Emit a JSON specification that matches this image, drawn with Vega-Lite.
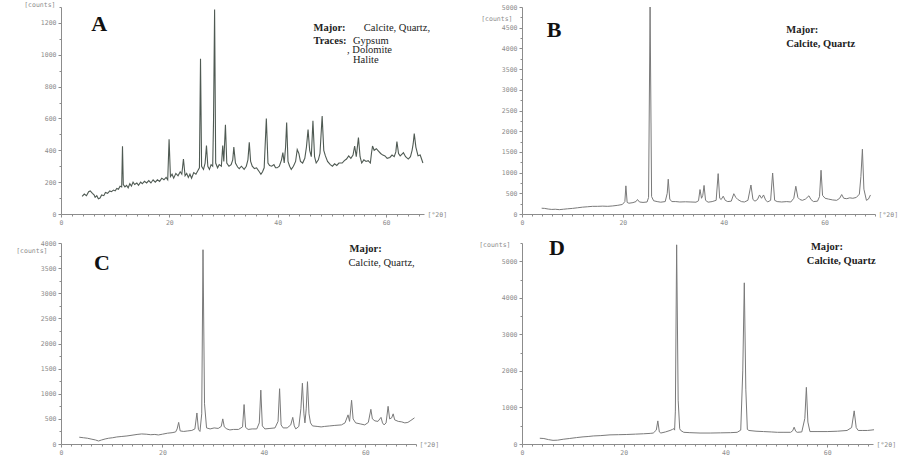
{
  "$schema": "https://vega.github.io/schema/vega-lite/v6.json",
  "background": "white",
  "padding": {"left": 15, "top": 1, "right": 0, "bottom": 0},
  "config": {
    "view": {"stroke": null},
    "axis": {
      "grid": false,
      "domainColor": "#8c8c8c",
      "tickColor": "#8c8c8c",
      "labelColor": "#8c8c8c",
      "labelFont": "DejaVu Sans Mono",
      "labelFontSize": 6.5,
      "tickSize": 3,
      "labelPadding": 2,
      "labelFlush": false,
      "titleFont": "DejaVu Sans Mono",
      "titleFontSize": 6.5,
      "titleFontWeight": "normal",
      "titleColor": "#8c8c8c",
      "titleAngle": 0,
      "titlePadding": 0
    }
  },
  "datasets": {
    "A": [
      {"t":3.9,"c":110},{"t":4.3,"c":125},{"t":4.7,"c":115},{"t":5.1,"c":140},{"t":5.4,"c":145},{"t":5.8,"c":130},{"t":6.1,"c":120},{"t":6.3,"c":105},{"t":6.6,"c":115},{"t":6.9,"c":95},{"t":7.2,"c":100},{"t":7.5,"c":120},{"t":7.9,"c":115},{"t":8.2,"c":135},{"t":8.6,"c":130},{"t":9.0,"c":145},{"t":9.3,"c":140},{"t":9.7,"c":150},{"t":10.0,"c":145},{"t":10.3,"c":160},{"t":10.6,"c":155},{"t":10.9,"c":175},{"t":11.2,"c":170},{"t":11.35,"c":425},{"t":11.5,"c":185},{"t":11.8,"c":170},{"t":12.1,"c":180},{"t":12.4,"c":165},{"t":12.7,"c":190},{"t":13.0,"c":175},{"t":13.3,"c":200},{"t":13.6,"c":185},{"t":14.0,"c":195},{"t":14.3,"c":180},{"t":14.7,"c":200},{"t":15.0,"c":190},{"t":15.4,"c":205},{"t":15.8,"c":195},{"t":16.2,"c":210},{"t":16.6,"c":195},{"t":17.0,"c":215},{"t":17.4,"c":200},{"t":17.8,"c":215},{"t":18.2,"c":205},{"t":18.6,"c":225},{"t":19.0,"c":215},{"t":19.4,"c":230},{"t":19.7,"c":215},{"t":19.95,"c":470},{"t":20.2,"c":235},{"t":20.5,"c":250},{"t":20.8,"c":225},{"t":21.2,"c":255},{"t":21.6,"c":240},{"t":22.0,"c":265},{"t":22.3,"c":250},{"t":22.6,"c":345},{"t":22.9,"c":240},{"t":23.2,"c":255},{"t":23.5,"c":230},{"t":23.8,"c":250},{"t":24.1,"c":225},{"t":24.5,"c":260},{"t":24.9,"c":250},{"t":25.3,"c":275},{"t":25.55,"c":290},{"t":25.75,"c":975},{"t":25.95,"c":300},{"t":26.3,"c":280},{"t":26.6,"c":320},{"t":26.85,"c":430},{"t":27.1,"c":300},{"t":27.4,"c":280},{"t":27.7,"c":310},{"t":28.0,"c":300},{"t":28.15,"c":580},{"t":28.35,"c":1285},{"t":28.55,"c":320},{"t":28.9,"c":290},{"t":29.2,"c":310},{"t":29.6,"c":300},{"t":29.85,"c":430},{"t":30.05,"c":330},{"t":30.35,"c":560},{"t":30.6,"c":320},{"t":31.0,"c":300},{"t":31.4,"c":310},{"t":31.7,"c":340},{"t":31.9,"c":420},{"t":32.2,"c":320},{"t":32.6,"c":295},{"t":32.9,"c":285},{"t":33.3,"c":300},{"t":33.8,"c":280},{"t":34.2,"c":300},{"t":34.5,"c":340},{"t":34.75,"c":450},{"t":35.0,"c":330},{"t":35.3,"c":300},{"t":35.7,"c":285},{"t":36.1,"c":290},{"t":36.5,"c":270},{"t":36.9,"c":250},{"t":37.2,"c":265},{"t":37.5,"c":290},{"t":37.9,"c":600},{"t":38.2,"c":320},{"t":38.5,"c":305},{"t":38.9,"c":300},{"t":39.3,"c":310},{"t":39.6,"c":290},{"t":39.9,"c":290},{"t":40.3,"c":300},{"t":40.7,"c":340},{"t":40.95,"c":385},{"t":41.2,"c":320},{"t":41.45,"c":420},{"t":41.65,"c":575},{"t":41.9,"c":330},{"t":42.2,"c":300},{"t":42.5,"c":280},{"t":42.9,"c":300},{"t":43.3,"c":330},{"t":43.6,"c":405},{"t":43.9,"c":380},{"t":44.2,"c":330},{"t":44.6,"c":320},{"t":45.0,"c":350},{"t":45.3,"c":420},{"t":45.6,"c":530},{"t":45.9,"c":400},{"t":46.2,"c":360},{"t":46.5,"c":585},{"t":46.8,"c":360},{"t":47.1,"c":320},{"t":47.5,"c":340},{"t":47.8,"c":380},{"t":48.2,"c":615},{"t":48.5,"c":400},{"t":48.8,"c":365},{"t":49.2,"c":330},{"t":49.7,"c":310},{"t":50.1,"c":300},{"t":50.5,"c":315},{"t":50.9,"c":305},{"t":51.3,"c":320},{"t":51.9,"c":320},{"t":52.3,"c":335},{"t":52.7,"c":345},{"t":53.1,"c":365},{"t":53.5,"c":350},{"t":53.9,"c":370},{"t":54.2,"c":427},{"t":54.5,"c":360},{"t":54.9,"c":480},{"t":55.2,"c":360},{"t":55.5,"c":320},{"t":55.9,"c":340},{"t":56.3,"c":330},{"t":56.7,"c":335},{"t":57.1,"c":320},{"t":57.3,"c":380},{"t":57.5,"c":427},{"t":57.8,"c":400},{"t":58.2,"c":410},{"t":58.6,"c":395},{"t":59.0,"c":380},{"t":59.4,"c":370},{"t":59.8,"c":365},{"t":60.2,"c":350},{"t":60.7,"c":355},{"t":61.1,"c":370},{"t":61.5,"c":360},{"t":61.8,"c":390},{"t":62.0,"c":455},{"t":62.3,"c":380},{"t":62.6,"c":365},{"t":62.9,"c":375},{"t":63.2,"c":385},{"t":63.6,"c":360},{"t":64.1,"c":345},{"t":64.5,"c":360},{"t":64.8,"c":400},{"t":65.0,"c":440},{"t":65.2,"c":505},{"t":65.5,"c":420},{"t":65.9,"c":365},{"t":66.3,"c":370},{"t":66.8,"c":320}
    ],
    "B": [
      {"t":3.9,"c":140},{"t":4.5,"c":135},{"t":5.2,"c":120},{"t":5.9,"c":110},{"t":6.6,"c":115},{"t":7.4,"c":105},{"t":8.2,"c":115},{"t":9.0,"c":125},{"t":10.0,"c":135},{"t":11.0,"c":150},{"t":12.0,"c":165},{"t":13.0,"c":175},{"t":14.0,"c":185},{"t":15.0,"c":185},{"t":16.0,"c":190},{"t":17.0,"c":185},{"t":18.0,"c":195},{"t":19.0,"c":210},{"t":19.9,"c":230},{"t":20.4,"c":300},{"t":20.6,"c":680},{"t":20.85,"c":280},{"t":21.2,"c":260},{"t":22.0,"c":275},{"t":22.6,"c":300},{"t":22.9,"c":350},{"t":23.3,"c":290},{"t":24.0,"c":280},{"t":24.8,"c":290},{"t":25.1,"c":400},{"t":25.4,"c":5000},{"t":25.7,"c":420},{"t":26.1,"c":320},{"t":26.8,"c":300},{"t":27.5,"c":285},{"t":28.4,"c":300},{"t":28.8,"c":500},{"t":29.0,"c":840},{"t":29.3,"c":360},{"t":29.7,"c":300},{"t":30.5,"c":300},{"t":31.3,"c":290},{"t":32.4,"c":295},{"t":33.5,"c":290},{"t":34.5,"c":285},{"t":35.0,"c":320},{"t":35.3,"c":590},{"t":35.6,"c":380},{"t":35.85,"c":450},{"t":36.1,"c":690},{"t":36.4,"c":330},{"t":36.9,"c":285},{"t":37.7,"c":300},{"t":38.5,"c":330},{"t":38.9,"c":975},{"t":39.2,"c":380},{"t":39.5,"c":350},{"t":39.9,"c":430},{"t":40.3,"c":330},{"t":40.8,"c":300},{"t":41.5,"c":310},{"t":42.0,"c":490},{"t":42.4,"c":400},{"t":42.8,"c":350},{"t":43.5,"c":300},{"t":44.1,"c":290},{"t":44.8,"c":330},{"t":45.4,"c":700},{"t":45.8,"c":350},{"t":46.2,"c":310},{"t":46.7,"c":350},{"t":47.1,"c":460},{"t":47.5,"c":380},{"t":47.9,"c":460},{"t":48.3,"c":340},{"t":48.7,"c":290},{"t":49.3,"c":330},{"t":49.7,"c":990},{"t":50.1,"c":330},{"t":50.6,"c":300},{"t":51.5,"c":290},{"t":52.5,"c":300},{"t":53.3,"c":290},{"t":53.9,"c":380},{"t":54.3,"c":670},{"t":54.7,"c":400},{"t":55.1,"c":350},{"t":55.6,"c":330},{"t":56.2,"c":360},{"t":56.9,"c":440},{"t":57.3,"c":350},{"t":57.8,"c":300},{"t":58.6,"c":310},{"t":59.0,"c":420},{"t":59.3,"c":1057},{"t":59.6,"c":450},{"t":60.1,"c":380},{"t":60.8,"c":360},{"t":61.6,"c":340},{"t":62.4,"c":330},{"t":63.0,"c":380},{"t":63.4,"c":470},{"t":63.8,"c":380},{"t":64.4,"c":370},{"t":65.0,"c":390},{"t":65.6,"c":380},{"t":66.3,"c":400},{"t":66.9,"c":480},{"t":67.2,"c":900},{"t":67.5,"c":1565},{"t":67.8,"c":600},{"t":68.3,"c":330},{"t":68.7,"c":360},{"t":69.1,"c":460}
    ],
    "C": [
      {"t":3.6,"c":135},{"t":4.4,"c":125},{"t":5.2,"c":115},{"t":6.1,"c":95},{"t":6.8,"c":80},{"t":7.4,"c":60},{"t":8.0,"c":80},{"t":8.7,"c":100},{"t":9.4,"c":115},{"t":10.2,"c":125},{"t":11.0,"c":140},{"t":12.0,"c":150},{"t":13.0,"c":160},{"t":14.0,"c":175},{"t":15.0,"c":190},{"t":15.9,"c":200},{"t":16.8,"c":195},{"t":17.7,"c":185},{"t":18.5,"c":190},{"t":19.2,"c":180},{"t":20.0,"c":195},{"t":21.0,"c":215},{"t":21.9,"c":225},{"t":22.6,"c":240},{"t":22.9,"c":300},{"t":23.2,"c":430},{"t":23.5,"c":260},{"t":24.2,"c":250},{"t":25.0,"c":260},{"t":25.8,"c":270},{"t":26.4,"c":300},{"t":26.8,"c":617},{"t":27.1,"c":290},{"t":27.4,"c":250},{"t":27.75,"c":600},{"t":28.0,"c":3866},{"t":28.3,"c":800},{"t":28.7,"c":320},{"t":29.4,"c":300},{"t":30.2,"c":320},{"t":31.0,"c":310},{"t":31.6,"c":350},{"t":31.9,"c":500},{"t":32.2,"c":340},{"t":32.7,"c":300},{"t":33.3,"c":280},{"t":34.0,"c":290},{"t":35.0,"c":290},{"t":35.8,"c":340},{"t":36.1,"c":785},{"t":36.4,"c":330},{"t":36.9,"c":290},{"t":37.7,"c":300},{"t":38.6,"c":300},{"t":39.1,"c":420},{"t":39.4,"c":1072},{"t":39.7,"c":360},{"t":40.2,"c":300},{"t":41.2,"c":310},{"t":42.2,"c":320},{"t":42.8,"c":450},{"t":43.1,"c":1100},{"t":43.4,"c":380},{"t":43.8,"c":320},{"t":44.6,"c":320},{"t":45.3,"c":380},{"t":45.7,"c":530},{"t":46.0,"c":360},{"t":46.3,"c":300},{"t":46.9,"c":350},{"t":47.3,"c":700},{"t":47.6,"c":1210},{"t":47.9,"c":600},{"t":48.1,"c":420},{"t":48.35,"c":700},{"t":48.6,"c":1240},{"t":48.9,"c":600},{"t":49.2,"c":420},{"t":49.6,"c":360},{"t":50.5,"c":350},{"t":51.3,"c":340},{"t":52.0,"c":350},{"t":53.0,"c":360},{"t":54.0,"c":370},{"t":55.3,"c":380},{"t":56.0,"c":420},{"t":56.6,"c":580},{"t":56.9,"c":450},{"t":57.3,"c":870},{"t":57.6,"c":500},{"t":58.1,"c":420},{"t":59.0,"c":400},{"t":59.9,"c":380},{"t":60.6,"c":430},{"t":61.1,"c":690},{"t":61.4,"c":500},{"t":61.9,"c":460},{"t":62.5,"c":450},{"t":63.1,"c":530},{"t":63.4,"c":420},{"t":63.7,"c":380},{"t":64.1,"c":420},{"t":64.5,"c":750},{"t":64.8,"c":500},{"t":65.2,"c":520},{"t":65.5,"c":600},{"t":65.8,"c":480},{"t":66.5,"c":450},{"t":67.2,"c":440},{"t":67.8,"c":420},{"t":68.4,"c":430},{"t":69.0,"c":470},{"t":69.7,"c":520}
    ],
    "D": [
      {"t":3.5,"c":157},{"t":4.3,"c":150},{"t":5.2,"c":120},{"t":6.1,"c":100},{"t":7.0,"c":105},{"t":8.1,"c":130},{"t":9.3,"c":150},{"t":10.7,"c":175},{"t":12.0,"c":195},{"t":13.0,"c":205},{"t":14.0,"c":220},{"t":15.5,"c":230},{"t":17.3,"c":250},{"t":19.0,"c":255},{"t":20.6,"c":260},{"t":22.3,"c":270},{"t":23.9,"c":280},{"t":25.2,"c":290},{"t":25.8,"c":300},{"t":26.4,"c":380},{"t":26.7,"c":632},{"t":27.0,"c":330},{"t":27.3,"c":300},{"t":28.2,"c":330},{"t":29.1,"c":370},{"t":29.6,"c":400},{"t":29.8,"c":420},{"t":30.0,"c":380},{"t":30.15,"c":900},{"t":30.4,"c":5450},{"t":30.7,"c":1200},{"t":31.0,"c":420},{"t":31.2,"c":370},{"t":31.8,"c":320},{"t":33.0,"c":310},{"t":35.0,"c":300},{"t":37.0,"c":300},{"t":39.0,"c":305},{"t":41.0,"c":310},{"t":42.3,"c":320},{"t":43.0,"c":380},{"t":43.4,"c":2000},{"t":43.7,"c":4410},{"t":44.0,"c":1500},{"t":44.3,"c":400},{"t":44.6,"c":370},{"t":46.0,"c":350},{"t":47.5,"c":340},{"t":49.0,"c":330},{"t":50.2,"c":320},{"t":51.5,"c":320},{"t":52.8,"c":320},{"t":53.2,"c":360},{"t":53.5,"c":460},{"t":53.8,"c":350},{"t":54.1,"c":320},{"t":55.0,"c":330},{"t":55.6,"c":700},{"t":55.9,"c":1550},{"t":56.2,"c":600},{"t":56.6,"c":340},{"t":58.0,"c":340},{"t":60.0,"c":340},{"t":62.0,"c":350},{"t":63.9,"c":370},{"t":64.8,"c":450},{"t":65.3,"c":907},{"t":65.7,"c":450},{"t":66.1,"c":370},{"t":67.0,"c":370},{"t":67.9,"c":370},{"t":68.6,"c":380},{"t":69.2,"c":390}
    ]
  },
  "columns": 2,
  "align": "each",
  "bounds": "flush",
  "spacing": {"row": 29, "column": 98},
  "concat": [
    {
      "width": 363, "height": 207,
      "resolve": {"axis": {"x": "independent", "y": "independent"}},
      "layer": [
        {
          "data": {"name": "A"},
          "mark": {"type": "line", "color": "#4f5a53", "strokeWidth": 1.1},
          "encoding": {
            "x": {"field": "t", "type": "quantitative", "scale": {"domain": [0, 67], "nice": false, "zero": false},
              "axis": {"orient": "bottom", "title": "[°2θ]", "titleX": 366, "titleY": 0, "titleAlign": "left", "titleBaseline": "middle", "values": [0, 20, 40, 60]}},
            "y": {"field": "c", "type": "quantitative", "scale": {"domain": [0, 1300], "nice": false},
              "axis": {"orient": "left", "title": "[counts]", "titleX": -6, "titleY": -3, "titleAlign": "right", "titleBaseline": "middle", "format": "d",
                "values": [0, 200, 400, 600, 800, 1000, 1200]}}
          }
        },
        {"data": {"values": [{}]}, "mark": {"type": "text", "text": "A", "font": "Liberation Serif", "fontWeight": "bold", "fontSize": 22, "align": "left", "baseline": "middle", "color": "#111"},
          "encoding": {
            "x": {"datum": 5.6, "type": "quantitative", "axis": {"orient": "bottom", "title": null, "labels": false, "domain": false, "tickSize": 2,
              "values": [2,4,6,8,10,12,14,16,18,22,24,26,28,30,32,34,36,38,42,44,46,48,50,52,54,56,58,62,64,66]}},
            "y": {"datum": 1195, "type": "quantitative", "axis": {"orient": "left", "title": null, "labels": false, "domain": false, "tickSize": 2,
              "values": [100, 300, 500, 700, 900, 1100, 1300]}}}},
        {"data": {"values": [{}]}, "mark": {"type": "text", "text": "Major:", "font": "Liberation Serif", "fontWeight": "bold", "fontSize": 10.5, "align": "left", "baseline": "middle", "color": "#222"},
          "encoding": {"x": {"datum": 46.6, "axis": null}, "y": {"datum": 1168, "axis": null}}},
        {"data": {"values": [{}]}, "mark": {"type": "text", "text": "Calcite, Quartz,", "font": "Liberation Serif", "fontSize": 10.5, "align": "left", "baseline": "middle", "color": "#222"},
          "encoding": {"x": {"datum": 55.9, "axis": null}, "y": {"datum": 1168, "axis": null}}},
        {"data": {"values": [{}]}, "mark": {"type": "text", "text": "Traces:", "font": "Liberation Serif", "fontWeight": "bold", "fontSize": 10.5, "align": "left", "baseline": "middle", "color": "#222"},
          "encoding": {"x": {"datum": 46.6, "axis": null}, "y": {"datum": 1086, "axis": null}}},
        {"data": {"values": [{}]}, "mark": {"type": "text", "text": "Gypsum", "font": "Liberation Serif", "fontSize": 10.5, "align": "left", "baseline": "middle", "color": "#222"},
          "encoding": {"x": {"datum": 53.9, "axis": null}, "y": {"datum": 1086, "axis": null}}},
        {"data": {"values": [{}]}, "mark": {"type": "text", "text": ", Dolomite", "font": "Liberation Serif", "fontSize": 10.5, "align": "left", "baseline": "middle", "color": "#222"},
          "encoding": {"x": {"datum": 52.8, "axis": null}, "y": {"datum": 1029, "axis": null}}},
        {"data": {"values": [{}]}, "mark": {"type": "text", "text": "Halite", "font": "Liberation Serif", "fontSize": 10.5, "align": "left", "baseline": "middle", "color": "#222"},
          "encoding": {"x": {"datum": 53.9, "axis": null}, "y": {"datum": 965, "axis": null}}}
      ]
    },
    {
      "width": 353, "height": 207,
      "resolve": {"axis": {"x": "independent", "y": "independent"}},
      "layer": [
        {
          "data": {"name": "B"},
          "mark": {"type": "line", "color": "#7a7a7a", "strokeWidth": 1},
          "encoding": {
            "x": {"field": "t", "type": "quantitative", "scale": {"domain": [0, 70], "nice": false, "zero": false},
              "axis": {"orient": "bottom", "title": "[°2θ]", "titleX": 356, "titleY": 0, "titleAlign": "left", "titleBaseline": "middle", "values": [0, 20, 40, 60]}},
            "y": {"field": "c", "type": "quantitative", "scale": {"domain": [0, 5000], "nice": false},
              "axis": {"orient": "left", "title": "[counts]", "titleX": -10, "titleY": 11, "titleAlign": "right", "titleBaseline": "middle", "format": "d",
                "values": [0, 500, 1000, 1500, 2000, 2500, 3000, 3500, 4000, 4500, 5000]}}
          }
        },
        {"data": {"values": [{}]}, "mark": {"type": "text", "text": "B", "font": "Liberation Serif", "fontWeight": "bold", "fontSize": 22, "align": "left", "baseline": "middle", "color": "#111"},
          "encoding": {
            "x": {"datum": 4.9, "type": "quantitative", "axis": {"orient": "bottom", "title": null, "labels": false, "domain": false, "tickSize": 2,
              "values": [2,4,6,8,10,12,14,16,18,22,24,26,28,30,32,34,36,38,42,44,46,48,50,52,54,56,58,62,64,66,68,70]}},
            "y": {"datum": 4450, "type": "quantitative", "axis": {"orient": "left", "title": null, "labels": false, "domain": false, "tickSize": 2,
              "values": [250, 750, 1250, 1750, 2250, 2750, 3250, 3750, 4250, 4750]}}}},
        {"data": {"values": [{}]}, "mark": {"type": "text", "text": "Major:", "font": "Liberation Serif", "fontWeight": "bold", "fontSize": 10.5, "align": "left", "baseline": "middle", "color": "#222"},
          "encoding": {"x": {"datum": 52.4, "axis": null}, "y": {"datum": 4450, "axis": null}}},
        {"data": {"values": [{}]}, "mark": {"type": "text", "text": "Calcite, Quartz", "font": "Liberation Serif", "fontWeight": "bold", "fontSize": 10.5, "align": "left", "baseline": "middle", "color": "#222"},
          "encoding": {"x": {"datum": 52.4, "axis": null}, "y": {"datum": 4114, "axis": null}}}
      ]
    },
    {
      "width": 355, "height": 201,
      "resolve": {"axis": {"x": "independent", "y": "independent"}},
      "layer": [
        {
          "data": {"name": "C"},
          "mark": {"type": "line", "color": "#7a7a7a", "strokeWidth": 1},
          "encoding": {
            "x": {"field": "t", "type": "quantitative", "scale": {"domain": [0, 70], "nice": false, "zero": false},
              "axis": {"orient": "bottom", "title": "[°2θ]", "titleX": 358, "titleY": 0, "titleAlign": "left", "titleBaseline": "middle", "values": [0, 20, 40, 60]}},
            "y": {"field": "c", "type": "quantitative", "scale": {"domain": [0, 4000], "nice": false},
              "axis": {"orient": "left", "title": "[counts]", "titleX": -14, "titleY": 7, "titleAlign": "right", "titleBaseline": "middle", "format": "d",
                "values": [0, 500, 1000, 1500, 2000, 2500, 3000, 3500, 4000]}}
          }
        },
        {"data": {"values": [{}]}, "mark": {"type": "text", "text": "C", "font": "Liberation Serif", "fontWeight": "bold", "fontSize": 22, "align": "left", "baseline": "middle", "color": "#111"},
          "encoding": {
            "x": {"datum": 6.5, "type": "quantitative", "axis": {"orient": "bottom", "title": null, "labels": false, "domain": false, "tickSize": 2,
              "values": [2,4,6,8,10,12,14,16,18,22,24,26,28,30,32,34,36,38,42,44,46,48,50,52,54,56,58,62,64,66,68,70]}},
            "y": {"datum": 3600, "type": "quantitative", "axis": {"orient": "left", "title": null, "labels": false, "domain": false, "tickSize": 2,
              "values": [250, 750, 1250, 1750, 2250, 2750, 3250, 3750]}}}},
        {"data": {"values": [{}]}, "mark": {"type": "text", "text": "Major:", "font": "Liberation Serif", "fontWeight": "bold", "fontSize": 10.5, "align": "left", "baseline": "middle", "color": "#222"},
          "encoding": {"x": {"datum": 56.9, "axis": null}, "y": {"datum": 3879, "axis": null}}},
        {"data": {"values": [{}]}, "mark": {"type": "text", "text": "Calcite, Quartz,", "font": "Liberation Serif", "fontSize": 10.5, "align": "left", "baseline": "middle", "color": "#222"},
          "encoding": {"x": {"datum": 56.7, "axis": null}, "y": {"datum": 3600, "axis": null}}}
      ]
    },
    {
      "width": 351, "height": 201,
      "resolve": {"axis": {"x": "independent", "y": "independent"}},
      "layer": [
        {
          "data": {"name": "D"},
          "mark": {"type": "line", "color": "#7a7a7a", "strokeWidth": 1},
          "encoding": {
            "x": {"field": "t", "type": "quantitative", "scale": {"domain": [0, 69], "nice": false, "zero": false},
              "axis": {"orient": "bottom", "title": "[°2θ]", "titleX": 354, "titleY": 0, "titleAlign": "left", "titleBaseline": "middle", "values": [0, 20, 40, 60]}},
            "y": {"field": "c", "type": "quantitative", "scale": {"domain": [0, 5500], "nice": false},
              "axis": {"orient": "left", "title": "[counts]", "titleX": -12, "titleY": 1, "titleAlign": "right", "titleBaseline": "middle", "format": "d",
                "values": [0, 1000, 2000, 3000, 4000, 5000]}}
          }
        },
        {"data": {"values": [{}]}, "mark": {"type": "text", "text": "D", "font": "Liberation Serif", "fontWeight": "bold", "fontSize": 22, "align": "left", "baseline": "middle", "color": "#111"},
          "encoding": {
            "x": {"datum": 5.3, "type": "quantitative", "axis": {"orient": "bottom", "title": null, "labels": false, "domain": false, "tickSize": 2,
              "values": [2,4,6,8,10,12,14,16,18,22,24,26,28,30,32,34,36,38,42,44,46,48,50,52,54,56,58,62,64,66,68]}},
            "y": {"datum": 5360, "type": "quantitative", "axis": {"orient": "left", "title": null, "labels": false, "domain": false, "tickSize": 2,
              "values": [500, 1500, 2500, 3500, 4500, 5500]}}}},
        {"data": {"values": [{}]}, "mark": {"type": "text", "text": "Major:", "font": "Liberation Serif", "fontWeight": "bold", "fontSize": 10.5, "align": "left", "baseline": "middle", "color": "#222"},
          "encoding": {"x": {"datum": 56.8, "axis": null}, "y": {"datum": 5400, "axis": null}}},
        {"data": {"values": [{}]}, "mark": {"type": "text", "text": "Calcite, Quartz", "font": "Liberation Serif", "fontWeight": "bold", "fontSize": 10.5, "align": "left", "baseline": "middle", "color": "#222"},
          "encoding": {"x": {"datum": 56, "axis": null}, "y": {"datum": 5020, "axis": null}}}
      ]
    }
  ]
}
